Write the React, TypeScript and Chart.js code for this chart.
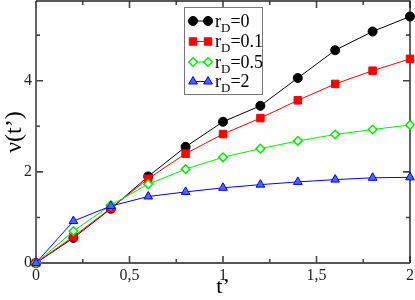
import React, { useEffect, useRef } from 'react';
import { Chart, registerables } from 'chart.js';
import { drawPoint } from 'chart.js/helpers';

Chart.register(...registerables);

const tValues = [0, 0.2, 0.4, 0.6, 0.8, 1.0, 1.2, 1.4, 1.6, 1.8, 2.0];
const nuRD0 = [0, 0.55, 1.19, 1.9, 2.55, 3.1, 3.45, 4.06, 4.67, 5.08, 5.41];
const nuRD01 = [0, 0.58, 1.2, 1.85, 2.4, 2.83, 3.18, 3.57, 3.93, 4.22, 4.48];
const nuRD05 = [0, 0.7, 1.27, 1.73, 2.06, 2.32, 2.51, 2.68, 2.82, 2.93, 3.03];
const nuRD2 = [0, 0.92, 1.25, 1.46, 1.56, 1.65, 1.72, 1.78, 1.83, 1.87, 1.88];
const rDLabels = ['0', '0.1', '0.5', '2'];
const xTickValues = [0, 0.5, 1, 1.5, 2];
const yTickValues = [0, 2, 4];
const xMax = 2;
const yMax = 5.75;

const seriesStyles = [
  { color: '#000000', fill: '#000000', pointStyle: 'circle', radius: 4.5, borderWidth: 1 },
  { color: '#ff0000', fill: '#ff0000', pointStyle: 'rect', radius: 5.3, borderWidth: 1 },
  { color: '#00ee00', fill: '#ffffff', pointStyle: 'rectRot', radius: 4.3, borderWidth: 1.5 },
  { color: '#0000ff', fill: '#4a64ff', pointStyle: 'triangle', radius: 5, borderWidth: 1 },
];

const SERIF = '"Liberation Serif", "DejaVu Serif", serif';

const framePlugin = {
  id: 'frameTicks',
  beforeDatasetsDraw(chart: any) {
    const ctx = chart.ctx;
    const { left, right, top, bottom } = chart.chartArea;
    const xs = chart.scales.x;
    const ys = chart.scales.y;
    ctx.save();
    ctx.strokeStyle = '#444';
    ctx.lineWidth = 1.6;
    ctx.beginPath();
    const xt = xTickValues;
    for (let i = 0; i < xt.length; i++) {
      const px = xs.getPixelForValue(xt[i]);
      ctx.moveTo(px, bottom); ctx.lineTo(px, bottom - 7);
      ctx.moveTo(px, top); ctx.lineTo(px, top + 7);
      if (i < xt.length - 1) {
        const mx = xs.getPixelForValue((xt[i] + xt[i + 1]) / 2);
        ctx.moveTo(mx, bottom); ctx.lineTo(mx, bottom - 4);
        ctx.moveTo(mx, top); ctx.lineTo(mx, top + 4);
      }
    }
    const yAll: number[] = [];
    for (let v = 0; v <= yMax + 1e-9; v += 1) yAll.push(v);
    for (const v of yAll) {
      const py = ys.getPixelForValue(v);
      const major = yTickValues.indexOf(v) >= 0;
      const len = major ? 7 : 4;
      ctx.moveTo(left, py); ctx.lineTo(left + len, py);
      ctx.moveTo(right, py); ctx.lineTo(right - len, py);
    }
    ctx.stroke();
    ctx.lineWidth = 1.8;
    ctx.strokeStyle = '#555';
    ctx.beginPath();
    ctx.moveTo(left, top);
    ctx.lineTo(left, bottom);
    ctx.lineTo(right, bottom);
    ctx.stroke();
    ctx.strokeStyle = '#222';
    ctx.lineWidth = 1.4;
    ctx.beginPath();
    ctx.moveTo(left, top);
    ctx.lineTo(right, top);
    ctx.lineTo(right, bottom);
    ctx.stroke();
    ctx.restore();
  },
  afterDatasetsDraw(chart: any) {
    const ctx = chart.ctx;
    ctx.save();
    const bx = 184, by = 7, bw = 78, bh = 87;
    ctx.fillStyle = '#ffffff';
    ctx.fillRect(bx, by, bw, bh);
    ctx.strokeStyle = '#777';
    ctx.lineWidth = 1;
    ctx.strokeRect(bx + 0.5, by + 0.5, bw, bh);
    const rows = [21, 41.5, 62, 81.5];
    rDLabels.forEach((lab, i) => {
      const st = seriesStyles[i];
      const y = rows[i];
      ctx.strokeStyle = st.color;
      ctx.lineWidth = 1;
      ctx.beginPath();
      ctx.moveTo(193, y); ctx.lineTo(208, y);
      ctx.stroke();
      for (const x of [193, 208]) {
        ctx.fillStyle = st.fill;
        ctx.strokeStyle = st.color;
        ctx.lineWidth = st.borderWidth;
        drawPoint(ctx, { pointStyle: st.pointStyle as any, radius: st.radius, rotation: 0, borderWidth: st.borderWidth }, x, y);
      }
      ctx.fillStyle = '#000';
      ctx.textBaseline = 'alphabetic';
      ctx.textAlign = 'left';
      ctx.font = `18px ${SERIF}`;
      let tx = 215;
      const base = y + 5.5;
      ctx.fillText('r', tx, base);
      tx += ctx.measureText('r').width;
      ctx.font = `13px ${SERIF}`;
      ctx.fillText('D', tx, base + 5);
      tx += ctx.measureText('D').width;
      ctx.font = `18px ${SERIF}`;
      ctx.fillText('=' + lab, tx, base);
    });
    ctx.restore();
  },
};

export default function App() {
  const ref = useRef<HTMLCanvasElement | null>(null);
  useEffect(() => {
    if (!ref.current) return;
    const series = [nuRD0, nuRD01, nuRD05, nuRD2];
    const datasets = series.map((vals, i) => {
      const st = seriesStyles[i];
      return {
        label: 'r_D=' + rDLabels[i],
        data: tValues.map((t, j) => ({ x: t, y: vals[j] })),
        borderColor: st.color,
        backgroundColor: st.fill,
        borderWidth: 1,
        pointStyle: st.pointStyle,
        pointRadius: st.radius,
        pointBorderWidth: st.borderWidth,
        pointBackgroundColor: st.fill,
        pointBorderColor: st.color,
        tension: 0,
        clip: false as any,
        order: 3 - i,
      };
    });
    const chart = new Chart(ref.current, {
      type: 'line',
      data: { datasets: datasets as any },
      options: {
        animation: false,
        responsive: false,
        devicePixelRatio: 1,
        layout: { autoPadding: false, padding: { top: 1, right: 5, left: 0, bottom: 0 } },
        plugins: { legend: { display: false }, tooltip: { enabled: false } },
        scales: {
          x: {
            type: 'linear',
            min: 0,
            max: xMax,
            afterFit: (s: any) => { s.height = 37; s.paddingLeft = 0; s.paddingRight = 0; },
            afterBuildTicks: (s: any) => { s.ticks = xTickValues.map((v) => ({ value: v })); },
            grid: { display: false, drawTicks: false },
            border: { display: false },
            ticks: {
              padding: 3,
              color: '#222',
              font: { family: SERIF, size: 16 },
              maxRotation: 0,
              autoSkip: false,
              callback: (v: any) => String(v).replace('.', ','),
            },
            title: {
              display: true,
              text: 't’',
              color: '#000',
              font: { family: SERIF, size: 22 },
              padding: { top: 0, bottom: 0 },
            },
          },
          y: {
            type: 'linear',
            min: 0,
            max: yMax,
            afterFit: (s: any) => { s.width = 36; s.paddingTop = 0; s.paddingBottom = 0; },
            afterBuildTicks: (s: any) => { s.ticks = yTickValues.map((v) => ({ value: v })); },
            grid: { display: false, drawTicks: false },
            border: { display: false },
            ticks: {
              padding: 4,
              color: '#222',
              font: { family: SERIF, size: 16 },
              autoSkip: false,
              callback: (v: any) => String(v),
            },
            title: {
              display: true,
              text: 'ν(t’)',
              color: '#000',
              font: { family: SERIF, size: 24 },
              padding: { top: 0, bottom: 0 },
            },
          },
        },
      },
      plugins: [framePlugin],
    });
    return () => chart.destroy();
  }, []);
  return (
    <div style={{ position: 'absolute', left: 0, top: 0, width: 415, height: 300, background: '#fff' }}>
      <canvas ref={ref} width={415} height={300} style={{ display: 'block' }} />
    </div>
  );
}
